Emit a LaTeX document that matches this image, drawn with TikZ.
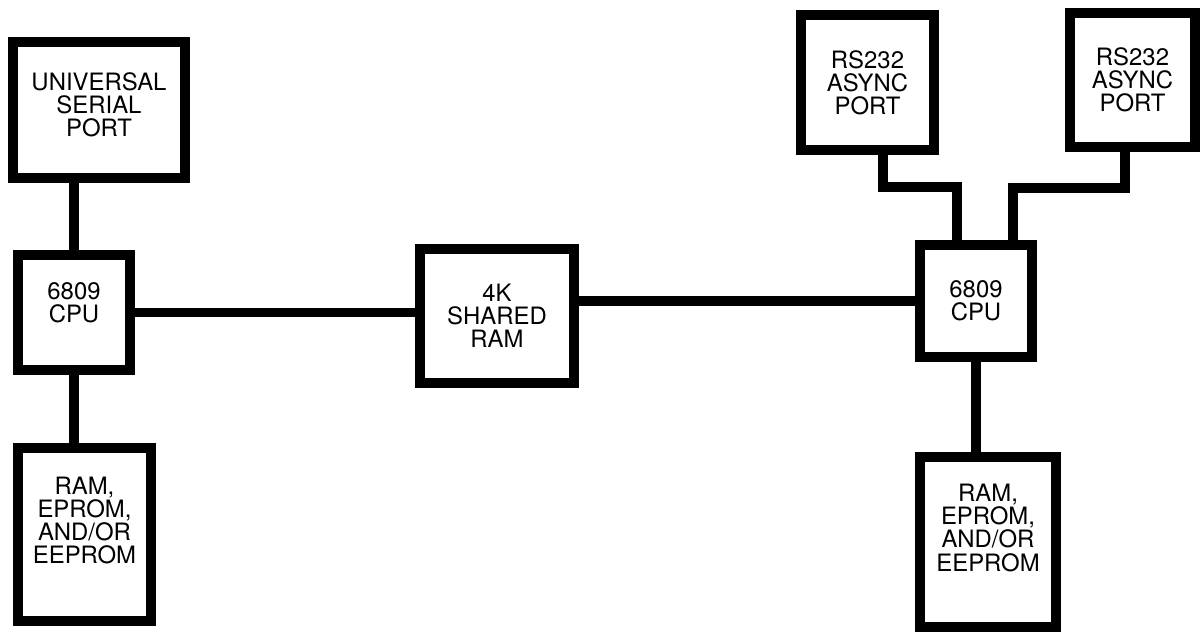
\documentclass[tikz,border=0pt]{standalone}
\usepackage{fontspec}
\setmainfont{TeX Gyre Heros}
\usepackage{tikz}
\usetikzlibrary{positioning}
\newcommand{\blkfont}{\fontsize{17}{16.5}\selectfont}
\newcommand{\ramtext}{RAM,\\EPROM,\\AND/OR\\EEPROM\\[4pt]\mbox{}}
\newcommand{\rstext}{RS232\\ASYNC\\PORT}
\newcommand{\cputext}{6809\\CPU}

\begin{document}
\begin{tikzpicture}[x=0.025cm,y=-0.025cm]
\tikzstyle{every node}=[draw,line width=0.24cm,align=center,font=\blkfont,inner sep=0pt]
\tikzstyle{wire}=[line width=0.24cm]
\useasboundingbox (0,0) rectangle (1201,632);
% left side
\node[minimum width=4.31cm,minimum height=3.41cm] (usp) at (99,110) {UNIVERSAL\\SERIAL\\PORT\\[-9pt]\mbox{}};
\node[minimum width=2.81cm,minimum height=2.885cm] (cpuL) at (74,312.5) {\cputext\\[-2pt]\mbox{}};
\node[minimum width=3.335cm,minimum height=4.335cm] (ramL) at (84.5,534.5) {\ramtext};
% middle
\node[minimum width=3.86cm,minimum height=3.36cm] (sram) at (497,316) {4K\\SHARED\\RAM};
% right side
\node[minimum width=3.335cm,minimum height=3.385cm] (rsA) at (867.5,82.5) {\rstext};
\node[minimum width=3.135cm,minimum height=3.36cm] (rsB) at (1132.5,80) {\rstext};
\node[minimum width=2.81cm,minimum height=2.81cm] (cpuR) at (976,301) {\cputext};
\node[minimum width=3.41cm,minimum height=4.26cm] (ramR) at (988,542) {\ramtext};
% buses
\path[wire] (usp.south -| cpuL.north) edge (cpuL.north)
  (cpuL.south) edge (cpuL.south |- ramL.north)
  (cpuL.east) edge (cpuL.east -| sram.west)
  (cpuR.west -| sram.east) edge (cpuR.west)
  (cpuR.south) edge (cpuR.south |- ramR.north);
\draw[wire] ([xshift=0.39cm]rsA.south) -- ++(0,32) -| ([xshift=-0.475cm]cpuR.north);
\draw[wire] ([xshift=-0.19cm]rsB.south) -- ++(0,36) -| ([xshift=0.925cm]cpuR.north);
\end{tikzpicture}
\end{document}
